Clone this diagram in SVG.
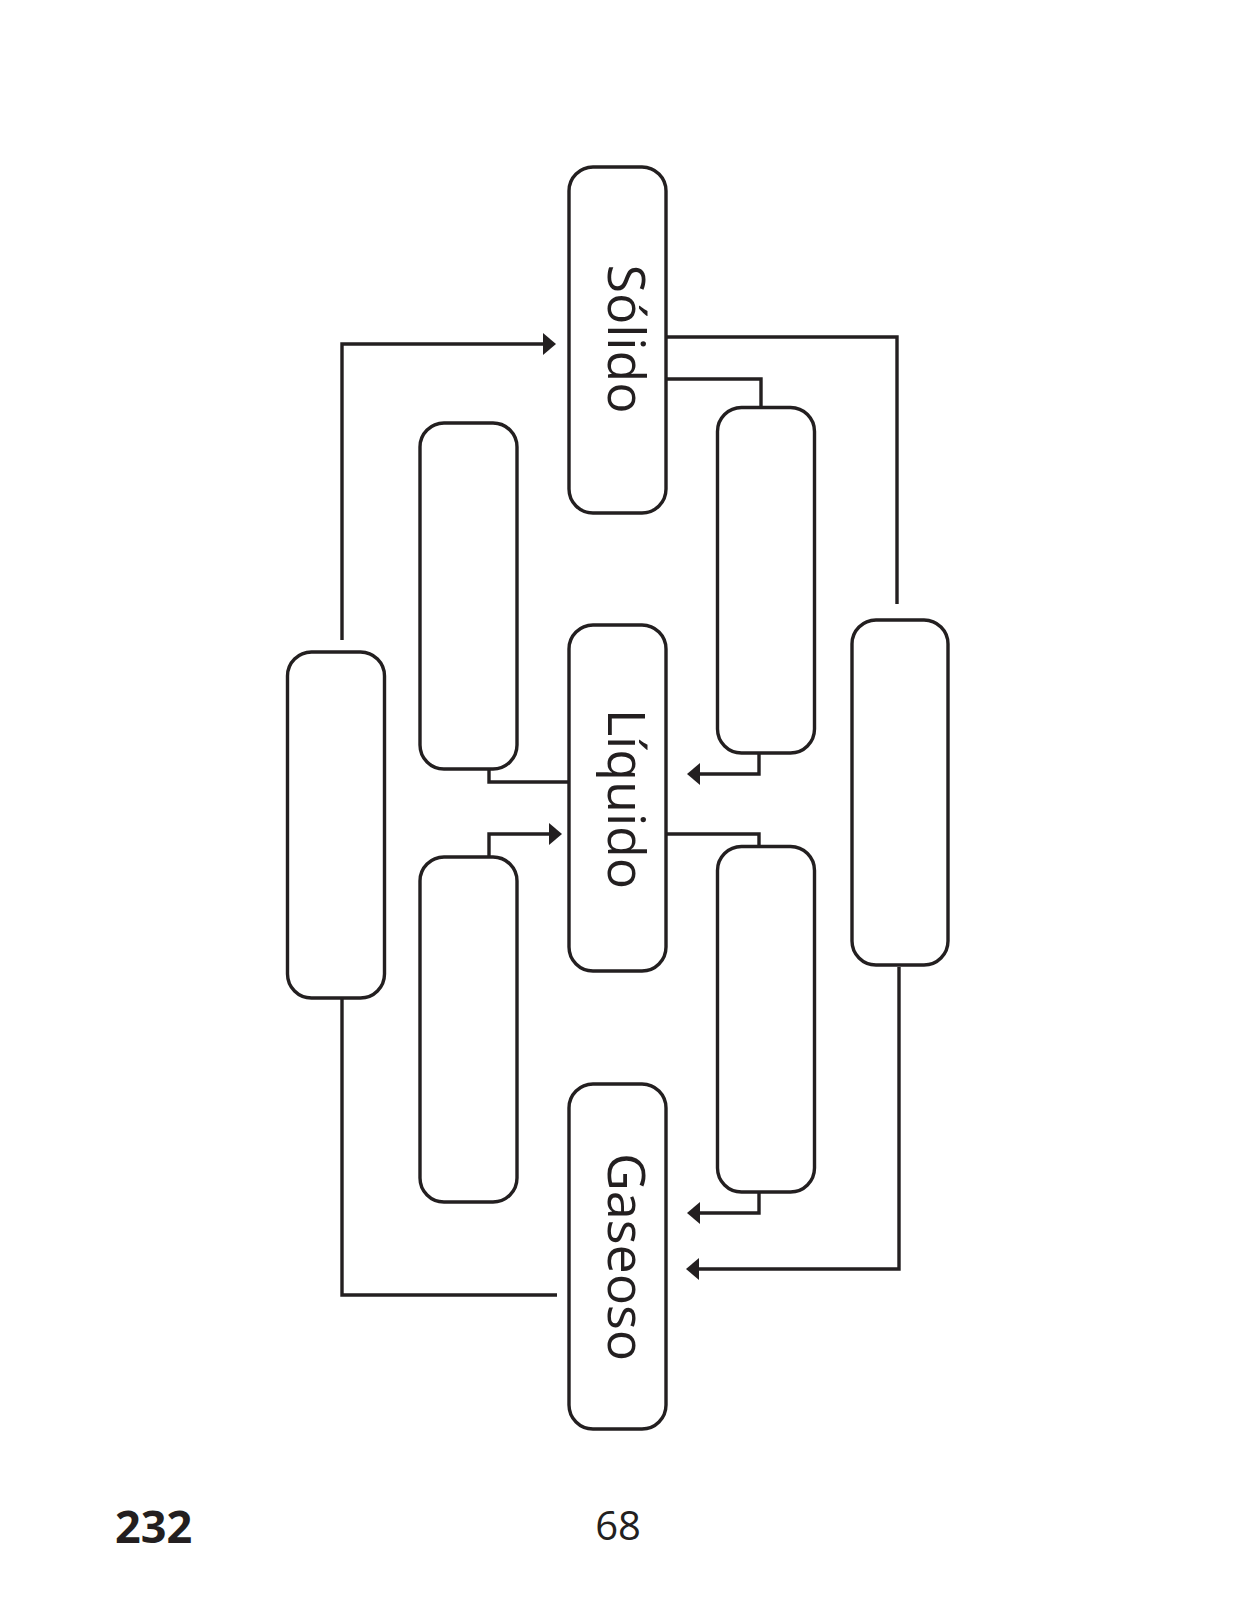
<svg xmlns="http://www.w3.org/2000/svg" width="1237" height="1600" viewBox="0 0 1237 1600">
<style>
.box{fill:#fff;stroke:#231f20;stroke-width:3.4}
.ln{fill:none;stroke:#231f20;stroke-width:3.4}
.lbl{font-family:"Open Sans","Noto Sans",sans-serif;font-size:52px;fill:#231f20;text-anchor:middle}
</style>
<defs>
<marker id="ah" markerUnits="userSpaceOnUse" viewBox="0 0 13 22" refX="1" refY="11" markerWidth="13" markerHeight="22" orient="auto">
<path d="M0,0 L13,11 L0,22 Z" fill="#231f20"/>
</marker>
</defs>
<rect width="1237" height="1600" fill="#fff"/>
<g id="connectors">
<path class="ln" d="M342,640 V344 H544" marker-end="url(#ah)"/>
<path class="ln" d="M557,1295 H342 V999"/>
<path class="ln" d="M667,337 H897 V604"/>
<path class="ln" d="M899,967 V1269 H698" marker-end="url(#ah)"/>
<path class="ln" d="M667,379 H761 V407"/>
<path class="ln" d="M759,753 V774 H699" marker-end="url(#ah)"/>
<path class="ln" d="M667,834 H759 V846"/>
<path class="ln" d="M759,1192 V1213 H699" marker-end="url(#ah)"/>
<path class="ln" d="M489,769 V782 H568"/>
<path class="ln" d="M489,857 V834 H550" marker-end="url(#ah)"/>
</g>
<g id="solido"><rect class="box" x="569" y="167" width="97" height="346" rx="24"/>
<text class="lbl" transform="translate(608,339) rotate(90)">Sólido</text></g>
<g id="liquido"><rect class="box" x="569" y="625" width="97" height="346" rx="24"/>
<text class="lbl" transform="translate(608,799) rotate(90)">Líquido</text></g>
<g id="gaseoso"><rect class="box" x="569" y="1084" width="97" height="345" rx="24"/>
<text class="lbl" transform="translate(608,1257) rotate(90)">Gaseoso</text></g>
<g id="box-left-top"><rect class="box" x="420" y="423" width="97" height="346" rx="24"/></g>
<g id="box-left-bottom"><rect class="box" x="420" y="857" width="97" height="345" rx="24"/></g>
<g id="box-right-top"><rect class="box" x="717.5" y="407.5" width="97" height="345.5" rx="24"/></g>
<g id="box-right-bottom"><rect class="box" x="717.5" y="846.5" width="97" height="345.5" rx="24"/></g>
<g id="box-far-left"><rect class="box" x="287.5" y="652" width="97" height="346" rx="24"/></g>
<g id="box-far-right"><rect class="box" x="852" y="620" width="96" height="345" rx="24"/></g>
<text x="115" y="1543" font-family="'Open Sans','Noto Sans',sans-serif" font-size="45" font-weight="bold" fill="#231f20">232</text>
<text x="618" y="1540" font-family="'Open Sans','Noto Sans',sans-serif" font-size="40" fill="#231f20" text-anchor="middle">68</text>
</svg>
